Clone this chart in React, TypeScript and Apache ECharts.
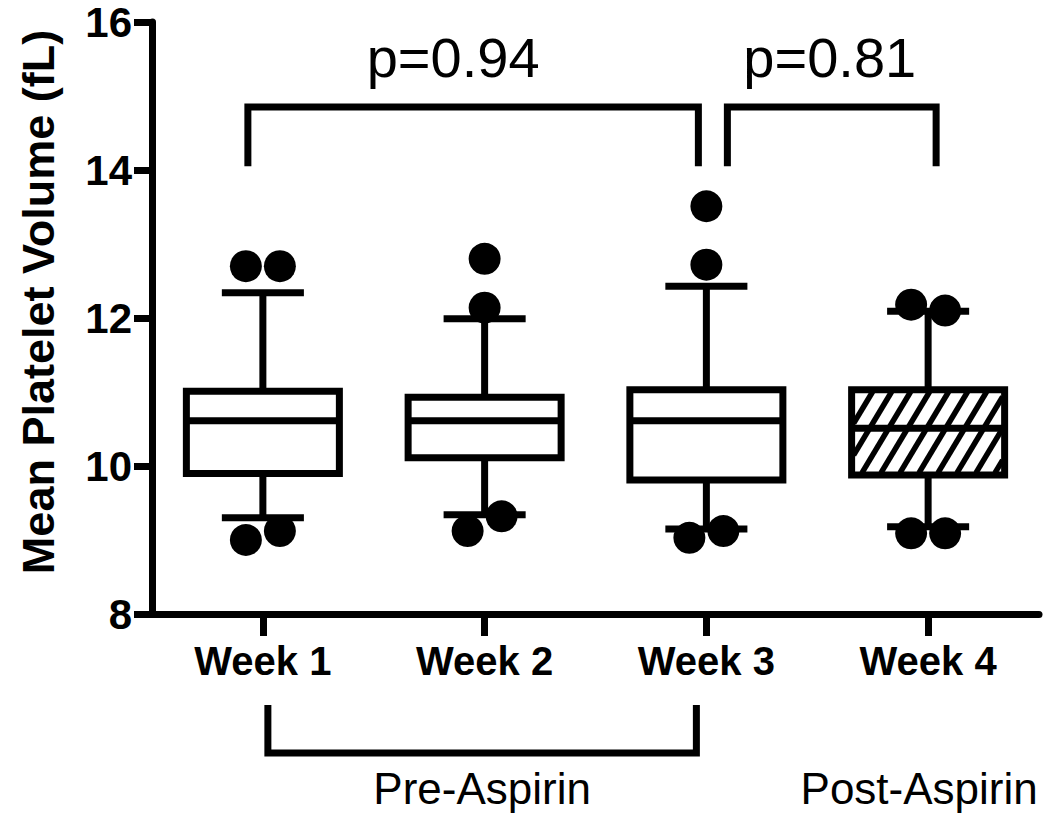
import React, { useEffect, useRef } from 'react';
import * as echarts from 'echarts';

const categories = ['Week 1', 'Week 2', 'Week 3', 'Week 4'];
const whiskerLow = [9.30, 9.34, 9.15, 9.18];
const quartile1 = [9.90, 10.11, 9.81, 9.88];
const medians = [10.61, 10.61, 10.61, 10.51];
const quartile3 = [11.01, 10.93, 11.03, 11.03];
const whiskerHigh = [12.34, 11.99, 12.43, 12.09];
const outliersHigh = [[12.70, 12.70], [12.80, 12.14], [13.51, 12.72], [12.18, 12.10]];
const outliersLow = [[9.00, 9.12], [9.12, 9.32], [9.03, 9.12], [9.09, 9.09]];
const hatched = [false, false, false, true];
const yMin = 8;
const yMax = 16;
const yInterval = 2;
const comparisons = [
  { from: 0, to: 2, label: 'p=0.94' },
  { from: 2, to: 3, label: 'p=0.81' },
];
const groupLabels = ['Pre-Aspirin', 'Post-Aspirin'];
const yTitle = 'Mean Platelet Volume (fL)';

const FONT = '"Liberation Sans", Arial, Helvetica, sans-serif';
const LW = 7;

export default function App() {
  const ref = useRef<HTMLDivElement>(null);

  useEffect(() => {
    if (!ref.current) return;
    const chart = echarts.init(ref.current, undefined, { renderer: 'svg' });

    const boxData = categories.map((_, i) => [
      i, whiskerLow[i], quartile1[i], medians[i], quartile3[i], whiskerHigh[i], hatched[i] ? 1 : 0,
    ]);

    const scatterData: any[] = [];
    const addPair = (i: number, pair: number[]) => {
      const close = Math.abs(pair[0] - pair[1]) < 0.4;
      pair.forEach((v, k) => {
        scatterData.push({
          value: [i, v],
          symbolOffset: [close ? (k === 0 ? -17 : 17) : 0, 0],
        });
      });
    };
    categories.forEach((_, i) => {
      addPair(i, outliersHigh[i]);
      addPair(i, outliersLow[i]);
    });

    const option: any = {
      animation: false,
      backgroundColor: '#fff',
      grid: { left: 152, right: 11, top: 22, bottom: 213, containLabel: false },
      xAxis: {
        type: 'category',
        data: categories,
        boundaryGap: true,
        axisLine: { show: true, lineStyle: { color: '#000', width: LW } },
        axisTick: { show: true, alignWithLabel: true, length: 22, lineStyle: { color: '#000', width: LW } },
        axisLabel: { color: '#000', fontFamily: FONT, fontWeight: 'bold', fontSize: 40, margin: 27 },
        splitLine: { show: false },
      },
      yAxis: {
        type: 'value',
        min: yMin,
        max: yMax,
        interval: yInterval,
        axisLine: { show: true, lineStyle: { color: '#000', width: LW } },
        axisTick: { show: true, length: 18, lineStyle: { color: '#000', width: LW } },
        axisLabel: { color: '#000', fontFamily: FONT, fontWeight: 'bold', fontSize: 42, margin: 20 },
        splitLine: { show: false },
      },
      series: [
        {
          type: 'custom',
          data: boxData,
          encode: { x: 0, y: [1, 2, 3, 4, 5] },
          z: 2,
          renderItem: (params: any, api: any) => {
            const i = api.value(0);
            const lo = api.coord([i, api.value(1)]);
            const b = api.coord([i, api.value(2)]);
            const m = api.coord([i, api.value(3)]);
            const t = api.coord([i, api.value(4)]);
            const hi = api.coord([i, api.value(5)]);
            const isHatched = api.value(6) === 1;
            const band = api.size([1, 0])[0];
            const cx = lo[0];
            const hw = band * 0.345;
            const cw = band * 0.185;
            const x0 = cx - hw;
            const x1 = cx + hw;
            const stroke = { stroke: '#000', lineWidth: LW };
            const children: any[] = [];
            children.push({ type: 'line', shape: { x1: cx, y1: t[1], x2: cx, y2: hi[1] }, style: stroke });
            children.push({ type: 'line', shape: { x1: cx, y1: b[1], x2: cx, y2: lo[1] }, style: stroke });
            children.push({ type: 'line', shape: { x1: cx - cw, y1: hi[1], x2: cx + cw, y2: hi[1] }, style: stroke });
            children.push({ type: 'line', shape: { x1: cx - cw, y1: lo[1], x2: cx + cw, y2: lo[1] }, style: stroke });
            children.push({
              type: 'rect',
              shape: { x: x0, y: t[1], width: x1 - x0, height: b[1] - t[1] },
              style: { fill: '#fff', stroke: 'none' },
            });
            if (isHatched) {
              const k = 0.6;
              const step = 19;
              const ix0 = x0 + 2, ix1 = x1 - 2, iy0 = t[1] + 2, iy1 = b[1] - 2;
              for (let c = ix0 + k * iy0; c <= ix1 + k * iy1; c += step) {
                const ya = Math.max(iy0, (c - ix1) / k);
                const yb = Math.min(iy1, (c - ix0) / k);
                if (ya < yb) {
                  children.push({
                    type: 'line',
                    shape: { x1: c - k * ya, y1: ya, x2: c - k * yb, y2: yb },
                    style: { stroke: '#000', lineWidth: 5.5 },
                  });
                }
              }
            }
            children.push({
              type: 'rect',
              shape: { x: x0, y: t[1], width: x1 - x0, height: b[1] - t[1] },
              style: { fill: 'none', stroke: '#000', lineWidth: LW },
            });
            children.push({ type: 'line', shape: { x1: x0, y1: m[1], x2: x1, y2: m[1] }, style: stroke });
            return { type: 'group', children };
          },
        },
        {
          type: 'scatter',
          data: scatterData,
          symbol: 'circle',
          symbolSize: 32,
          itemStyle: { color: '#000', opacity: 1 },
          z: 3,
        },
      ],
    };

    chart.setOption(option);

    const px = (i: number, v: number) => chart.convertToPixel({ xAxisIndex: 0, yAxisIndex: 0 }, [i, v]) as number[];
    const cxs = categories.map((_, i) => px(i, yMin)[0]);
    const axisY = px(0, yMin)[1];
    const topY = px(0, 14.85)[1];
    const legY = px(0, 14.05)[1];
    const lineStyle = { stroke: '#000', lineWidth: LW, fill: 'none' };

    const b1l = cxs[comparisons[0].from] - 15;
    const b1r = cxs[comparisons[0].to] - 8;
    const b2l = cxs[comparisons[1].from] + 21;
    const b2r = cxs[comparisons[1].to] + 8;
    const preL = cxs[0] + 5;
    const preR = cxs[2] - 10;

    const graphic: any[] = [
      {
        type: 'polyline',
        shape: { points: [[b1l, legY], [b1l, topY], [b1r, topY], [b1r, legY]] },
        style: lineStyle,
      },
      {
        type: 'polyline',
        shape: { points: [[b2l, legY], [b2l, topY], [b2r, topY], [b2r, legY]] },
        style: lineStyle,
      },
      {
        type: 'text',
        x: (b1l + b1r) / 2 - 20,
        y: topY - 50,
        style: { text: comparisons[0].label, fontFamily: FONT, fontSize: 56, fill: '#000', align: 'center', verticalAlign: 'middle' },
      },
      {
        type: 'text',
        x: (b2l + b2r) / 2 - 2,
        y: topY - 50,
        style: { text: comparisons[1].label, fontFamily: FONT, fontSize: 56, fill: '#000', align: 'center', verticalAlign: 'middle' },
      },
      {
        type: 'polyline',
        shape: { points: [[preL, axisY + 91], [preL, axisY + 139], [preR, axisY + 139], [preR, axisY + 91]] },
        style: lineStyle,
      },
      {
        type: 'text',
        x: (preL + preR) / 2,
        y: axisY + 174,
        style: { text: groupLabels[0], fontFamily: FONT, fontSize: 44, fill: '#000', align: 'center', verticalAlign: 'middle' },
      },
      {
        type: 'text',
        x: cxs[3] - 9,
        y: axisY + 174,
        style: { text: groupLabels[1], fontFamily: FONT, fontSize: 44, fill: '#000', align: 'center', verticalAlign: 'middle' },
      },
      {
        type: 'text',
        x: 38,
        y: 302,
        rotation: Math.PI / 2,
        style: { text: yTitle, fontFamily: FONT, fontWeight: 'bold', fontSize: 45, fill: '#000', align: 'center', verticalAlign: 'middle' },
      },
    ];

    chart.setOption({ graphic });

    return () => chart.dispose();
  }, []);

  return (
    <div
      ref={ref}
      style={{ position: 'fixed', left: 0, top: 0, width: 1050, height: 827, background: '#fff' }}
    />
  );
}
